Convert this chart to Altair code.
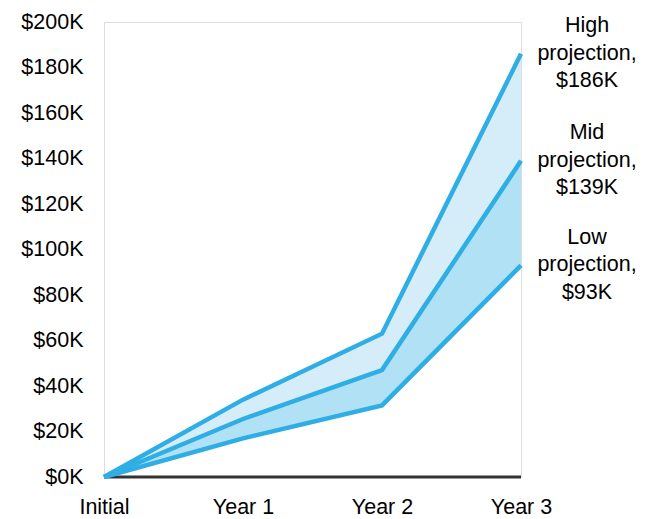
import altair as alt
import pandas as pd

stages = ["Initial", "Year 1", "Year 2", "Year 3"]
low = [0, 17000, 31500, 93000]
mid = [0, 25500, 47000, 139000]
high = [0, 34000, 63000, 186000]
label_texts = ["High\nprojection,\n$186K", "Mid\nprojection,\n$139K", "Low\nprojection,\n$93K"]
label_values = [186000, 139000, 93000]

df = pd.DataFrame({"stage": stages, "low": low, "mid": mid, "high": high})
lines_df = pd.DataFrame({
    "stage": stages * 3,
    "value": high + mid + low,
    "series": ["High"] * 4 + ["Mid"] * 4 + ["Low"] * 4,
})
labels_df = pd.DataFrame({"stage": ["Year 3"] * 3, "value": label_values, "text": label_texts})
base_df = pd.DataFrame({"stage": stages, "zero": [0] * 4})

FONT = "Liberation Sans"
FS = 21.5
LINE = "#2eaee4"

x = alt.X("stage:N", sort=stages, scale=alt.Scale(type="point", padding=0),
          axis=alt.Axis(title=None, labelAngle=0, ticks=False, domain=False,
                        labelFontSize=FS, labelFont=FONT, labelColor="#000",
                        labelPadding=19))
yscale = alt.Scale(domain=[0, 200000])
yaxis = alt.Axis(title=None, values=list(range(0, 200001, 20000)), grid=False, ticks=False,
                 domain=False, labelFontSize=FS, labelFont=FONT, labelColor="#000",
                 labelPadding=21, labelExpr="'$' + datum.value/1000 + 'K'")

area_hi = alt.Chart(df).mark_area(color="#d5edf8", opacity=1).encode(
    x=x, y=alt.Y("mid:Q", scale=yscale, axis=yaxis), y2="high:Q")
area_lo = alt.Chart(df).mark_area(color="#b0e1f5", opacity=1).encode(
    x=x, y=alt.Y("low:Q", scale=yscale, axis=yaxis), y2="mid:Q")
baseline = alt.Chart(base_df).mark_line(color="#333333", strokeWidth=3).encode(
    x=x, y=alt.Y("zero:Q", scale=yscale, axis=yaxis))
lines = alt.Chart(lines_df).mark_line(color=LINE, strokeWidth=4.5).encode(
    x=x, y=alt.Y("value:Q", scale=yscale, axis=yaxis), detail="series:N")
labels = alt.Chart(labels_df).mark_text(
    font=FONT, fontSize=FS, color="#000", align="center", baseline="middle",
    lineBreak="\n", lineHeight=27.5, dx=66, dy=-27.5
).encode(x=x, y=alt.Y("value:Q", scale=yscale, axis=yaxis), text="text:N")

chart = alt.layer(area_hi, area_lo, baseline, lines, labels).properties(
    width=417, height=455,
    autosize=alt.AutoSizeParams(type="none"),
    padding={"left": 104, "top": 22, "right": 145, "bottom": 42},
).configure_view(stroke=None).configure(background="white")

chart.save("out.html", embed_options={"renderer": "svg", "actions": False})
